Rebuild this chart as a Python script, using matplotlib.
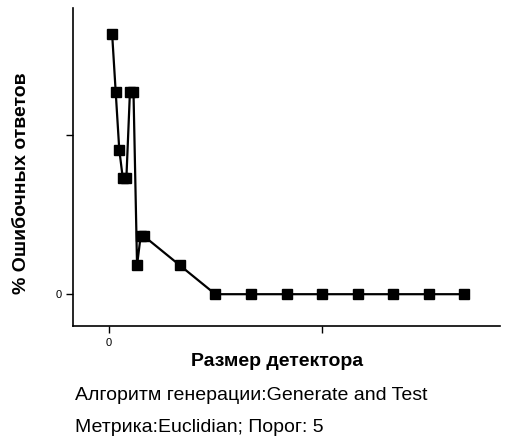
import numpy as np
import matplotlib
matplotlib.use('Agg')
import matplotlib.pyplot as plt

plt.rcParams['font.family'] = ['Liberation Sans', 'DejaVu Sans']

# detector size vs percent of wrong answers
det_size = [5, 10, 15, 20, 25, 30, 35, 40, 45, 50, 100,
            150, 200, 250, 300, 350, 400, 450, 500]
err_pct = [8.18, 6.36, 4.55, 3.64, 3.64, 6.36, 6.36, 0.91, 1.82, 1.82, 0.91,
           0, 0, 0, 0, 0, 0, 0, 0]

x_ticks = [0, 300]
x_ticklabels = ['0', '']
y_ticks = [0, 5]
y_ticklabels = ['0', '']

xlabel = 'Размер детектора'
ylabel = '% Ошибочных ответов'
caption1 = 'Алгоритм генерации:Generate and Test'
caption2 = 'Метрика:Euclidian; Порог: 5'

fig = plt.figure(figsize=(5.11, 4.41), dpi=100)
ax = fig.add_axes([73/511, 1-326/441, (500-73)/511, (326-8)/441])

ax.plot(det_size, err_pct, color='black', lw=1.6, marker='s',
        markersize=6.5, markerfacecolor='black', markeredgecolor='black')

ax.set_xlim(-50, 550)
ax.set_ylim(-1, 9)
ax.set_xticks(x_ticks)
ax.set_xticklabels(x_ticklabels)
ax.set_yticks(y_ticks)
ax.set_yticklabels(y_ticklabels)

for s in ['top', 'right']:
    ax.spines[s].set_visible(False)
for s in ['left', 'bottom']:
    ax.spines[s].set_linewidth(1.2)

ax.tick_params(axis='x', direction='out', length=5, width=1, labelsize=8, pad=4)
ax.tick_params(axis='y', direction='out', length=5, width=1, labelsize=8, pad=3)

fig.text(277/511, 1-362/441, xlabel, ha='center', va='center',
         fontsize=14, fontweight='bold')
fig.text(22/511, 1-183/441, ylabel, ha='center', va='center',
         rotation=90, fontsize=14, fontweight='bold')
fig.text(75/511, 1-400/441, caption1, ha='left', va='baseline', fontsize=14)
fig.text(75/511, 1-432/441, caption2, ha='left', va='baseline', fontsize=14)

fig.savefig('out.png', dpi=100)
plt.close()
